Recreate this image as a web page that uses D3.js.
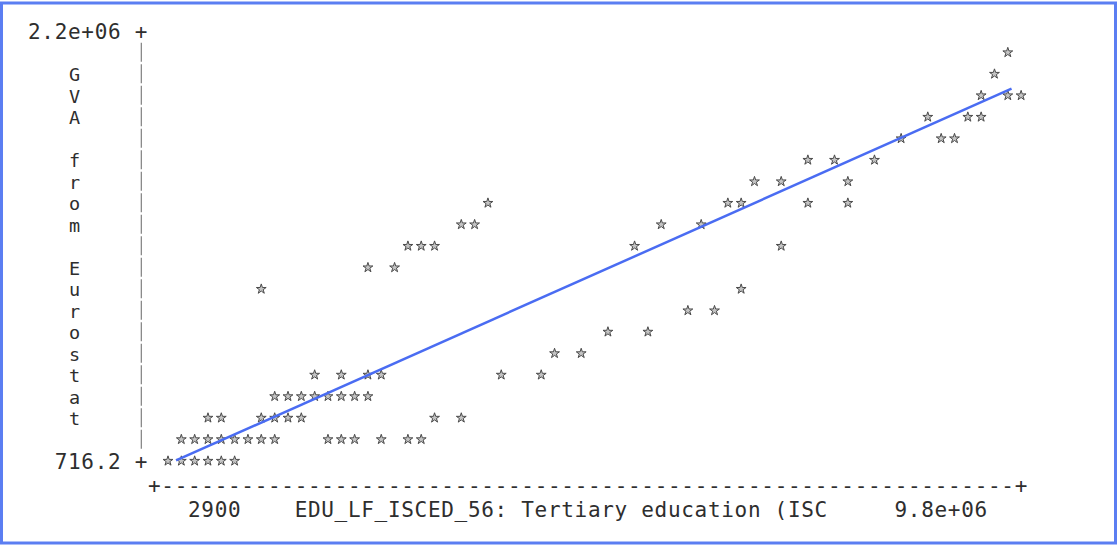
<!DOCTYPE html>
<html>
<head>
<meta charset="utf-8">
<script src="https://d3js.org/d3.v7.min.js"></script>
<style>
    body { margin: 0; background: #fff; }
    text.mono {
        font-family: "DejaVu Sans Mono", monospace;
        font-size: 21px;
        letter-spacing: 0.69px;
        fill: #2e2e2e;
    }
    text.title-letter {
        font-family: "DejaVu Sans Mono", monospace;
        font-size: 18.5px;
        fill: #2e2e2e;
    }
</style>
</head>
<body>
<svg id="plot" width="1118" height="545"></svg>
<script>
// tertiary education (x) vs GVA (y), one entry per star
const xValues = [
    2900, 156000, 309000, 462000, 615000, 768000,
    156000, 309000, 462000, 615000, 768000, 921000, 1074000, 1228000, 1840000, 1993000, 2146000, 2452000, 2758000, 2911000,
    462000, 615000, 1074000, 1228000, 1381000, 1534000, 3064000, 3371000,
    1228000, 1381000, 1534000, 1687000, 1840000, 1993000, 2146000, 2299000,
    1687000, 1993000, 2299000, 2452000, 3830000, 4289000,
    4442000, 4748000,
    5055000, 5514000,
    5973000, 6279000,
    1074000, 6585000,
    2299000, 2605000,
    2758000, 2911000, 3064000, 5361000, 7045000,
    3371000, 3524000, 5667000, 6126000,
    3677000, 6432000, 6585000, 7351000, 7810000,
    6738000, 7045000, 7810000,
    7351000, 7657000, 8116000,
    8422000, 8882000, 9035000,
    8728000, 9188000, 9341000,
    9341000, 9647000, 9800000,
    9494000,
    9647000
];
const yValues = [
    716, 716, 716, 716, 716, 716,
    111000, 111000, 111000, 111000, 111000, 111000, 111000, 111000, 111000, 111000, 111000, 111000, 111000, 111000,
    221000, 221000, 221000, 221000, 221000, 221000, 221000, 221000,
    331000, 331000, 331000, 331000, 331000, 331000, 331000, 331000,
    441000, 441000, 441000, 441000, 441000, 441000,
    551000, 551000,
    661000, 661000,
    770000, 770000,
    880000, 880000,
    990000, 990000,
    1100000, 1100000, 1100000, 1100000, 1100000,
    1210000, 1210000, 1210000, 1210000,
    1320000, 1320000, 1320000, 1320000, 1320000,
    1430000, 1430000, 1430000,
    1540000, 1540000, 1540000,
    1650000, 1650000, 1650000,
    1760000, 1760000, 1760000,
    1870000, 1870000, 1870000,
    1980000,
    2090000
];
// least squares line end points
const fitX = [95000, 9690000];
const fitY = [3500, 1905000];

const yTickValues = [2200000, 716.2];
const yTickLabels = ["2.2e+06", "716.2"];
const xTickLabels = ["2900", "9.8e+06"];
const yTitle = "GVA from Eurostat";
const xTitle = "EDU_LF_ISCED_56: Tertiary education (ISC";

const svg = d3.select("svg#plot");
const W = +svg.attr("width"), H = +svg.attr("height");

// character grid of the text plot
const cw = 13.33;
const col0 = 168;
const nRows = 20;
const colLeft = c => col0 + c * cw - cw / 2;

const xScale = d3.scaleLinear().domain([2900, 9800000]).range([col0, col0 + 64 * cw]);
const yScale = d3.scaleLinear().domain([716.2, 2200000]).range([461, 31]);
const rowY = r => yScale(716.2 + (nRows - r) / nRows * (2200000 - 716.2));
const rowH = rowY(1) - rowY(0);

// frame
svg.append("rect")
    .attr("x", 1.5).attr("y", 3).attr("width", W - 4).attr("height", H - 5)
    .attr("fill", "none").attr("stroke", "#5b7ef2").attr("stroke-width", 3);

const txt = svg.append("g").attr("id", "labels");

// y tick labels with their "+"
yTickValues.forEach((v, i) => {
    const s = yTickLabels[i] + " +";
    txt.append("text").attr("class", "mono")
        .attr("x", colLeft(-1 - s.length))
        .attr("y", yScale(v) + 7.5)
        .text(s);
});

// vertical bar of the y axis (one segment per row)
svg.append("line")
    .attr("x1", col0 - 2 * cw).attr("x2", col0 - 2 * cw)
    .attr("y1", rowY(1) - rowH / 2 + 1).attr("y2", rowY(nRows - 1) + rowH / 2 - 1)
    .attr("stroke", "#8a8a8a").attr("stroke-width", 1.3)
    .attr("stroke-dasharray", `${rowH - 2.5},2.5`);

// y title, one letter per row
yTitle.split("").forEach((ch, i) => {
    txt.append("text").attr("class", "title-letter")
        .attr("x", col0 - 7 * cw)
        .attr("text-anchor", "middle")
        .attr("y", rowY(2 + i) + 7)
        .text(ch);
});

// x axis line
txt.append("text").attr("class", "mono")
    .attr("x", colLeft(-1))
    .attr("y", 492.5)
    .text("+" + "-".repeat(64) + "+");

// x labels line
txt.append("text").attr("class", "mono").attr("x", colLeft(2)).attr("y", 517).text(xTickLabels[0]);
txt.append("text").attr("class", "mono").attr("x", colLeft(10)).attr("y", 517).text(xTitle);
txt.append("text").attr("class", "mono").attr("x", colLeft(55)).attr("y", 517).text(xTickLabels[1]);

// points
const star = d3.symbol().type(d3.symbolStar).size(30);
svg.append("g").attr("id", "points")
    .selectAll("path")
    .data(xValues.map((x, i) => [x, yValues[i]]))
    .join("path")
    .attr("d", star)
    .attr("transform", d => `translate(${xScale(d[0])},${yScale(d[1])})`)
    .attr("fill", "#c4c4c4")
    .attr("stroke", "#4a4a4a")
    .attr("stroke-width", 1);

// fitted line
svg.append("path")
    .datum(fitX.map((x, i) => [x, fitY[i]]))
    .attr("fill", "none")
    .attr("stroke", "#4a6cf2")
    .attr("stroke-width", 2.5)
    .attr("d", d3.line().x(d => xScale(d[0])).y(d => yScale(d[1])));
</script>
</body>
</html>
